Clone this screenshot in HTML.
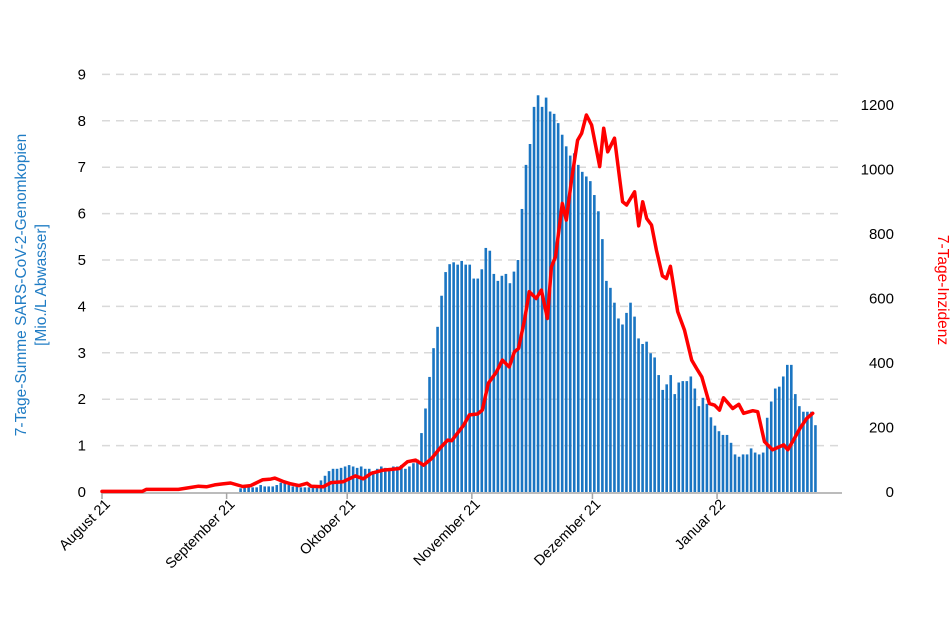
<!DOCTYPE html>
<html><head><meta charset="utf-8"><style>
body{margin:0;background:#fff;}
svg{display:block;font-family:"Liberation Sans",sans-serif;}
</style></head><body>
<svg id="chart" width="951" height="634" viewBox="0 0 951 634">
<g id="grid"></g>
<g id="bars"></g>
<g id="axes"></g>
<g id="line"></g>
<text transform="translate(30,285) rotate(-90)" text-anchor="middle" fill="#1f7cc4" font-size="15.5"><tspan x="0" dy="-4">7-Tage-Summe SARS-CoV-2-Genomkopien</tspan><tspan x="0" dy="20">[Mio./L Abwasser]</tspan></text>
<text transform="translate(938,290) rotate(90)" text-anchor="middle" fill="#ff0000" font-size="15.5">7-Tage-Inzidenz</text>
</svg>
<script>
const monthLabels=["August 21","September 21","Oktober 21","November 21","Dezember 21","Januar 22"];
const monthDays=[0,31,61,92,122,153];
const leftTicks=[0,1,2,3,4,5,6,7,8,9];
const rightTicks=[0,200,400,600,800,1000,1200];
const barVals=[].concat(
 Array(34).fill(0),
 [0.08,0.1,0.12,0.1,0.1,0.15,0.12,0.12,0.12,0.15,0.2,0.2,0.15,0.12,0.15,0.1,0.1,0.1,0.12,0.15],
 [0.25,0.35,0.45,0.5],
 [0.5,0.52,0.55,0.58,0.55,0.52,0.55,0.5,0.5,0.45,0.5,0.55,0.52,0.5,0.55,0.55,0.58,0.5,0.55],
 [0.62,0.7],
 [1.27,1.8,2.48,3.1,3.56,4.23,4.74,4.91,4.95,4.9,4.98,4.9,4.9,4.6,4.6,4.8,5.26,5.2,4.7,4.55,4.66,4.7,4.5,4.75,5.0,6.1,7.05,7.5,8.3,8.55,8.3,8.5,8.2,8.15,7.95,7.7,7.45,7.25,7.3,7.05,6.9,6.8,6.7,6.4,6.05,5.45,4.55],
 [4.4,4.08,3.74,3.61,3.86,4.08,3.78,3.31,3.19,3.24,2.99,2.9,2.52,2.2,2.32,2.52,2.11,2.36,2.39,2.39,2.49,2.23,1.85,2.03,1.9,1.61,1.43,1.31,1.23,1.23,1.06,0.81,0.76,0.81,0.81,0.94,0.85,0.81,0.85,1.6,1.95,2.23,2.27,2.49,2.74,2.74,2.11,1.85,1.73,1.73,1.73,1.44]
);
const incDays=[0,10,11,19,21,24,26,28,30,32,35,37,40,42,43,45,47,49,51,52,55,57,60,63,65,67,70,72,74,76,78,80,82,84,86,87,90,91.4,93.4,94.6,96.1,98.1,99.6,101.3,102.6,103.6,105.1,106.3,108,109.3,110.8,111.8,112.8,114.5,115.5,116.8,118.3,119.3,120.5,121.8,123.8,124.8,125.8,127.5,129.5,130.5,132.5,133.5,134.5,135.5,136.7,137.9,139.4,140.4,141.4,143.2,144.9,146.7,147.9,149.2,151.1,152.4,153.6,154.6,156.9,158.4,159.6,161.9,163.1,164.8,166.8,169.6,170.6,171.8,173.6,175.3,176.8];
const incVals=[2,2,8,8,12,18,16,22,25,28,17,20,38,40,43,33,25,20,27,18,16,29,32,50,41,58,68,70,73,94,99,83,104,135,161,159,208,239,242,254,337,372,409,388,435,445,533,621,600,626,538,698,729,895,843,967,1091,1112,1169,1138,1009,1128,1055,1097,900,890,931,825,900,848,828,750,670,662,700,559,502,409,383,357,274,269,254,292,259,272,244,252,249,156,131,146,131,156,197,228,244];

const NS="http://www.w3.org/2000/svg";
const X0=102,DX=4.02,Y0=492,YL=46.4,YR=387/1200,XEND=842;
const xDay=d=>X0+d*DX, yL=v=>Y0-v*YL, yR=v=>Y0-v*YR;
function mk(tag,attrs,parent){const e=document.createElementNS(NS,tag);for(const k in attrs)e.setAttribute(k,attrs[k]);parent.appendChild(e);return e;}
const grid=document.getElementById('grid'),bars=document.getElementById('bars'),axes=document.getElementById('axes'),lineG=document.getElementById('line');
leftTicks.forEach(t=>{
 if(t>0){const g=mk('line',{x1:X0,x2:XEND,y1:yL(t),y2:yL(t),stroke:'#d9d9d9','stroke-width':1.5,'stroke-dasharray':'8,6'},grid);
 
 }
 const tx=mk('text',{x:86,y:yL(t)+5,'text-anchor':'end','font-size':15,fill:'#000'},axes);tx.textContent=t;
 
 
});
rightTicks.forEach(t=>{
 const tx=mk('text',{x:894,y:yR(t)+5,'text-anchor':'end','font-size':15,fill:'#000'},axes);tx.textContent=t;
 
 
});
barVals.forEach((v,i)=>{
 if(v<=0)return;
 const r=mk('rect',{x:xDay(i)+0.6,y:yL(v),width:2.6,height:Y0-yL(v),fill:'#1a75c2'},bars);
 
 
});
const ax=mk('line',{x1:X0,x2:XEND,y1:Y0+1,y2:Y0+1,stroke:'#a6a6a6','stroke-width':1.5},axes);


monthDays.forEach((d,i)=>{
 const tk=mk('line',{x1:xDay(d),x2:xDay(d),y1:Y0+1,y2:Y0+7,stroke:'#a6a6a6','stroke-width':1.5},axes);
 
 
 const tx=mk('text',{transform:`translate(${xDay(d)+9},${Y0+13}) rotate(-45)`,'text-anchor':'end','font-size':14.5,fill:'#000'},axes);
 tx.textContent=monthLabels[i];
 
 
});
const pts=incDays.map((d,i)=>xDay(d).toFixed(1)+','+yR(incVals[i]).toFixed(1)).join(' ');
const pl=mk('polyline',{points:pts,fill:'none',stroke:'#ff0000','stroke-width':3.5,'stroke-linejoin':'round','stroke-linecap':'round'},lineG);


</script>
</body></html>
